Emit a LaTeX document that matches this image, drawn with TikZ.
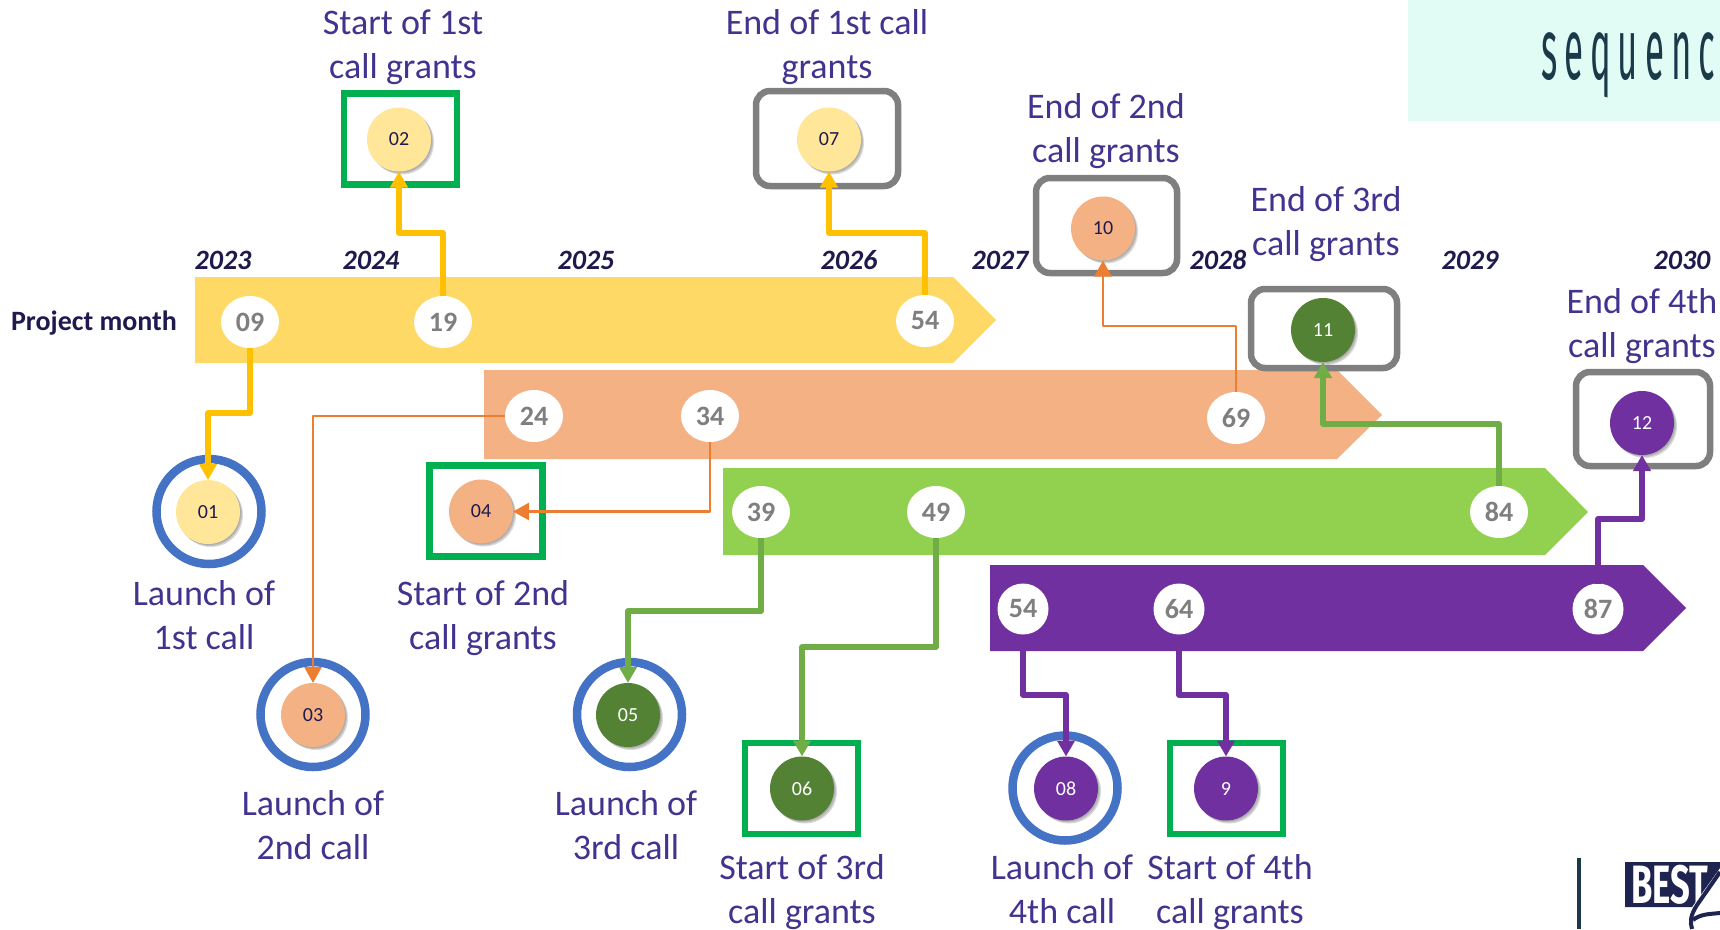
\documentclass[tikz,border=0pt]{standalone}
\usepackage{fontspec}
\setmainfont{Carlito}
\newfontfamily\seqfont[LetterSpace=20]{Fira Sans}
\newfontfamily\bestfont{Fira Sans}
\usetikzlibrary{arrows.meta,shadows,backgrounds,shapes.geometric}
\definecolor{bandY}{HTML}{FFD966}
\definecolor{bandO}{HTML}{F4B183}
\definecolor{bandG}{HTML}{92D050}
\definecolor{bandP}{HTML}{7030A0}
\definecolor{lineY}{HTML}{FFC000}
\definecolor{lineO}{HTML}{ED7D31}
\definecolor{lineG}{HTML}{70AD47}
\definecolor{markY}{HTML}{FFE699}
\definecolor{markG}{HTML}{548235}
\definecolor{ringB}{HTML}{4472C4}
\definecolor{boxG}{HTML}{00B050}
\definecolor{boxK}{HTML}{7F7F7F}
\definecolor{labC}{HTML}{41348F}
\definecolor{navyT}{HTML}{1F1A4E}
\definecolor{mint}{HTML}{E1FBF5}
\definecolor{seqC}{HTML}{1A3A4A}
\definecolor{bestC}{HTML}{1F2350}
\tikzset{
  x=1pt,y=-1pt,
  every node/.style={inner sep=0pt,outer sep=0pt},
  lab/.style={align=center,text=labC,font=\fontsize{36}{43.8}\selectfont},
  yr/.style={text=navyT,font=\fontsize{28}{30}\selectfont\bfseries\itshape},
  month/.style={ellipse,fill=white,minimum width=58pt,minimum height=52pt,text=boxK,font=\fontsize{28}{30}\selectfont\bfseries},
  marker/.style={circle,minimum size=64pt,fill=#1,
    general shadow={fill=black,opacity=.10,shadow xshift=1pt,shadow yshift=-1pt},
    general shadow={fill=black,opacity=.12,shadow xshift=2pt,shadow yshift=-2pt},
    general shadow={fill=black,opacity=.14,shadow xshift=3pt,shadow yshift=-3pt},
    font=\fontsize{20}{21}\selectfont},
  ringn/.style={circle,draw=ringB,line width=8.5pt,minimum size=105pt},
  gbox/.style={rectangle,draw=boxG,line width=6.5pt,minimum width=113pt,minimum height=91pt},
  kbox/.style={rectangle,rounded corners=14pt,draw=boxK,line width=6.5pt},
  conn/.style={line width=#1,line join=round,-{Triangle[length=16pt,width=17pt]}},
  conn/.default=5.4pt
}
\begin{document}
\begin{tikzpicture}
\useasboundingbox (0,0) rectangle (1720,929);
% corner decorations
\fill[mint] (1408,0) rectangle (1720,121);
\node[anchor=base west,xscale=.40,transform shape,text=seqC,font=\fontsize{87}{90}\seqfont] (seq) at (1541,79) {sequenc};
\fill[seqC] (1577,858) rectangle (1581,929);
\fill[bestC] (1625,862) -- (1720,862) -- (1720,868) -- (1692,907) -- (1625,907) -- cycle;
\node[anchor=base west,xscale=.64,transform shape,text=white,font=\fontsize{54}{56}\bestfont\bfseries] (best) at (1631,903) {BEST};
\draw[bestC,line width=4pt] (1720,872) -- (1697,905) .. controls (1690,916) and (1690,922) .. (1692,929);
\draw[bestC,line width=4pt] (1693,920) .. controls (1700,914) and (1710,914) .. (1720,913);
% bands
\fill[bandY] (195,277) -- (953,277) -- (996,320) -- (953,363) -- (195,363) -- cycle;
\fill[bandO] (484,370) -- (1337,370) -- (1382,415) -- (1337,459) -- (484,459) -- cycle;
\fill[bandG] (723,468) -- (1545,468) -- (1588,512) -- (1545,555) -- (723,555) -- cycle;
\fill[bandP] (990,565) -- (1643,565) -- (1686,608) -- (1643,651) -- (990,651) -- cycle;
% project month
\node[font=\fontsize{28}{30}\selectfont\bfseries,text=navyT] (pm) at (94,323) {Project month};
% years
\node[yr] (y23) at (223,260) {2023};
\node[yr] (y24) at (371,260) {2024};
\node[yr] (y25) at (586,260) {2025};
\node[yr] (y26) at (849,260) {2026};
\node[yr] (y27) at (1000,260) {2027};
\node[yr] (y28) at (1218,260) {2028};
\node[yr] (y29) at (1470,260) {2029};
\node[yr] (y30) at (1682,260) {2030};
% frames
\node[ringn] (r01) at (209,511.5) {};
\node[ringn] (r03) at (313,714.5) {};
\node[ringn] (r05) at (629.5,714.5) {};
\node[ringn] (r08) at (1065,788) {};
\node[gbox] (b02) at (400.5,139) {};
\node[gbox] (b04) at (486,511) {};
\node[gbox] (b06) at (801.5,788.5) {};
\node[gbox] (b09) at (1226.5,788.5) {};
\node[kbox,minimum width=142pt,minimum height=95pt] (b07) at (827,138.5) {};
\node[kbox,minimum width=141pt,minimum height=95pt] (b10) at (1106.5,225.5) {};
\node[kbox,minimum width=146pt,minimum height=79pt] (b11) at (1324,328.5) {};
\node[kbox,minimum width=134pt,minimum height=94pt] (b12) at (1643,419) {};
% month ellipses
\node[month] (m09) at (250,322) {09};
\node[month] (m19) at (443,322) {19};
\node[month] (m54a) at (925,321) {54};
\node[month] (m24) at (534,416) {24};
\node[month] (m34) at (710,416) {34};
\node[month] (m69) at (1236,418) {69};
\node[month] (m39) at (761,512) {39};
\node[month] (m49) at (936,512) {49};
\node[month] (m84) at (1499,512) {84};
\node[month,minimum width=51pt,minimum height=51pt] (m54b) at (1023,609) {54};
\node[month,minimum width=51pt,minimum height=51pt] (m64) at (1179,609) {64};
\node[month,minimum width=51pt,minimum height=51pt] (m87) at (1598,609) {87};
% markers
\node[marker=markY,text=navyT] (c01) at (208,512) {01};
\node[marker=markY,text=navyT] (c02) at (399,139.5) {02};
\node[marker=bandO,text=navyT] (c03) at (313,715) {03};
\node[marker=bandO,text=navyT] (c04) at (481,511.5) {04};
\node[marker=markG,text=white] (c05) at (628,715) {05};
\node[marker=markG,text=white] (c06) at (802,788.5) {06};
\node[marker=markY,text=navyT] (c07) at (829,139.5) {07};
\node[marker=bandP,text=white] (c08) at (1066,788.5) {08};
\node[marker=bandP,text=white] (c09) at (1226,788.5) {9};
\node[marker=bandO,text=navyT] (c10) at (1103,228.5) {10};
\node[marker=markG,text=white] (c11) at (1323,330) {11};
\node[marker=bandP,text=white] (c12) at (1642,423) {12};
% connectors
\draw[conn,lineY] (m09.south) -- (m09.south |- 0,413) -| (c01.north);
\draw[conn,lineY] (m19.north) -- (m19.north |- 0,233) -| (c02.south);
\draw[conn,lineY] (m54a.north) -- (m54a.north |- 0,233) -| (c07.south);
\draw[conn=2.6pt,lineO] (m24.west) -| (c03.north);
\draw[conn=2.6pt,lineO] (m34.south) |- (c04.east);
\draw[conn=2.6pt,lineO] (m69.north) -- (m69.north |- 0,326) -| (c10.south);
\draw[conn,lineG] (m39.south) -- (m39.south |- 0,611) -| (c05.north);
\draw[conn,lineG] (m49.south) -- (m49.south |- 0,647) -| (c06.north);
\draw[conn,lineG] (m84.north) -- (m84.north |- 0,424) -| (c11.south);
\draw[conn,bandP] (m54b.south) -- (m54b.south |- 0,695) -| (c08.north);
\draw[conn,bandP] (m64.south) -- (m64.south |- 0,695) -| (c09.north);
\draw[conn,bandP] (m87.north) -- (m87.north |- 0,519) -| (c12.south);
% labels
\node[lab] (l02) at (403,48) {\strut Start of 1st\\\strut call grants};
\node[lab] (l07) at (827,48) {\strut End of 1st call\\\strut grants};
\node[lab] (l10) at (1106,132) {\strut End of 2nd\\\strut call grants};
\node[lab] (l11) at (1326,225) {\strut End of 3rd\\\strut call grants};
\node[lab] (l12) at (1642,327) {\strut End of 4th\\\strut call grants};
\node[lab] (l01) at (204,619) {\strut Launch of\\\strut 1st call};
\node[lab] (l04) at (483,619) {\strut Start of 2nd\\\strut call grants};
\node[lab] (l03) at (313,829) {\strut Launch of\\\strut 2nd call};
\node[lab] (l05) at (626,829) {\strut Launch of\\\strut 3rd call};
\node[lab] (l06) at (802,893) {\strut Start of 3rd\\\strut call grants};
\node[lab] (l08) at (1062,893) {\strut Launch of\\\strut 4th call};
\node[lab] (l09) at (1230,893) {\strut Start of 4th\\\strut call grants};
\end{tikzpicture}
\end{document}
